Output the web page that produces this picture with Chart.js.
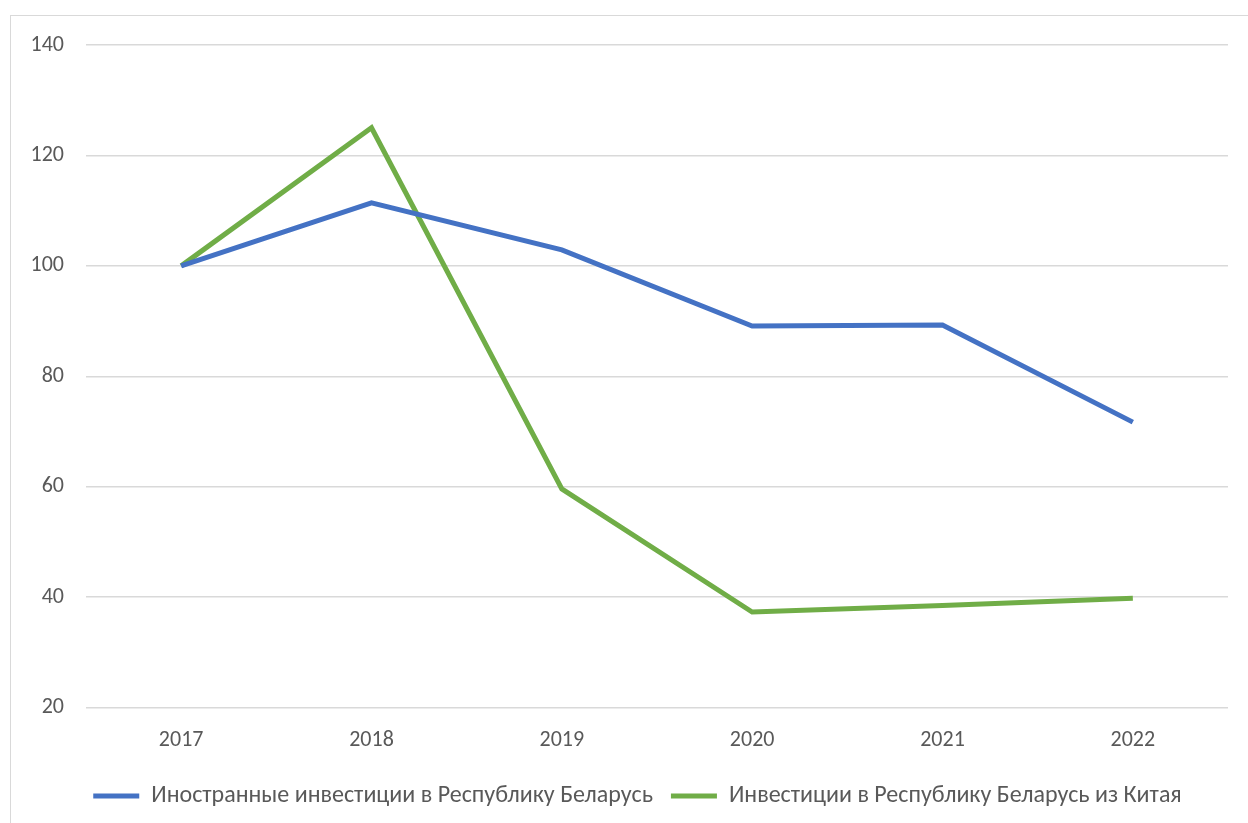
<!DOCTYPE html>
<html>
<head>
<meta charset="utf-8">
<script src="https://cdn.jsdelivr.net/npm/chart.js@4"></script>
<style>
  html, body { margin: 0; padding: 0; background: #fff; overflow: hidden; }
  #frame {
    position: absolute; left: 10px; top: 15px;
    width: 1250px; height: 820px;
    border-left: 1.5px solid #d9d9d9; border-top: 1.5px solid #d9d9d9;
  }
  #wrap { position: absolute; left: 0; top: 0; width: 1238px; height: 808px; }
</style>
</head>
<body>
<div id="frame"><div id="wrap"><canvas id="chart"></canvas></div></div>
<script>
'use strict';

const years = ['2017', '2018', '2019', '2020', '2021', '2022'];
const foreignInvest = [100, 111.4, 102.9, 89.1, 89.3, 71.7];
const chinaInvest = [100, 125.0, 59.6, 37.3, 38.5, 39.8];
const yTicks = [20, 40, 60, 80, 100, 120, 140];

const FONT = 'Calibri, Carlito, Lato, sans-serif';
const TEXT = '#595959';
const GRID = '#d9d9d9';

function makeDataset(label, values, color) {
  return {
    label: label,
    data: values,
    borderColor: color,
    backgroundColor: color,
    borderWidth: 5,
    pointRadius: 0,
    pointHoverRadius: 0,
    tension: 0,
    fill: false,
  };
}

// nudge the legend a bit right, like the original layout
const legendShift = {
  id: 'legendShift',
  afterLayout(chart) {
    chart.legend.left += 18;
    chart.legend.right += 18;
  },
};

function onContentLoad() {
  const ctx = document.getElementById('chart').getContext('2d');
  new Chart(ctx, {
    type: 'line',
    data: {
      labels: years,
      datasets: [
        makeDataset('Иностранные инвестиции в Республику Беларусь', foreignInvest, '#4472C4'),
        makeDataset('Инвестиции в Республику Беларусь из Китая', chinaInvest, '#70AD47'),
      ],
    },
    plugins: [legendShift],
    options: {
      responsive: true,
      maintainAspectRatio: false,
      animation: false,
      layout: { padding: { left: 0, right: 21, top: 29, bottom: 6 } },
      plugins: {
        tooltip: { enabled: false },
        legend: {
          position: 'bottom',
          labels: {
            font: { family: FONT, size: 24 },
            color: TEXT,
            boxWidth: 46,
            boxHeight: 5,
            padding: 18,
            generateLabels(chart) {
              return chart.data.datasets.map((ds, i) => ({
                text: ds.label,
                fillStyle: ds.borderColor,
                strokeStyle: ds.borderColor,
                lineWidth: 0,
                fontColor: TEXT,
                datasetIndex: i,
              }));
            },
          },
        },
      },
      scales: {
        x: {
          offset: true,
          grid: { display: false },
          border: { display: false },
          ticks: { font: { family: FONT, size: 22 }, color: TEXT, padding: 12 },
        },
        y: {
          min: 20,
          max: 140,
          afterBuildTicks(scale) {
            scale.ticks = yTicks.map(v => ({ value: v }));
          },
          afterFit(scale) {
            scale.width = 75;
          },
          grid: {
            color: GRID,
            lineWidth: 1.5,
            drawTicks: true,
            tickLength: 18,
            tickColor: 'rgba(0,0,0,0)',
          },
          border: { display: false },
          ticks: { font: { family: FONT, size: 22 }, color: TEXT, padding: 4 },
        },
      },
    },
  });
}

document.addEventListener('DOMContentLoaded', onContentLoad);
</script>
</body>
</html>
